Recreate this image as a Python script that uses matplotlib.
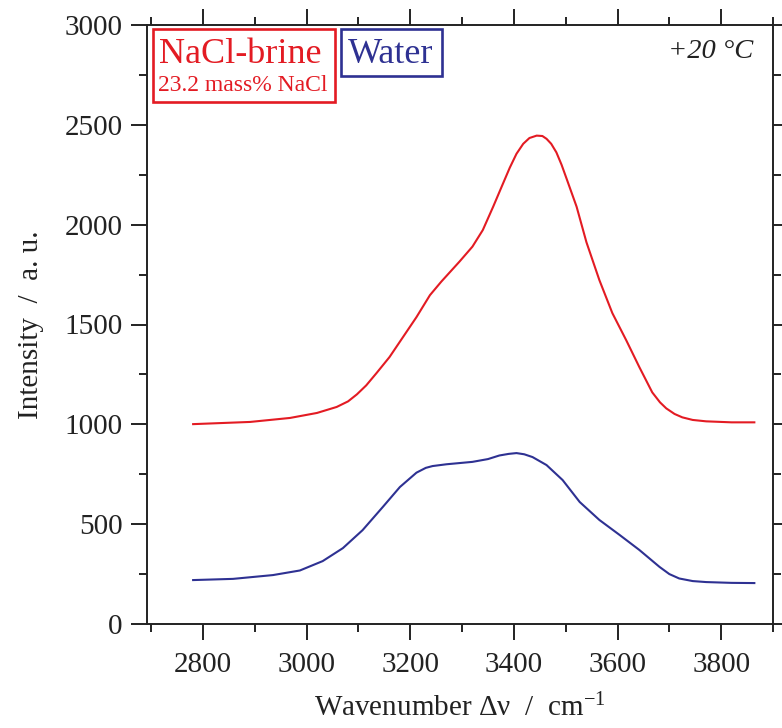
import matplotlib
matplotlib.use("Agg")
import matplotlib.pyplot as plt
from matplotlib.patches import Rectangle
from matplotlib.ticker import MultipleLocator

plt.rcParams['font.family'] = ['Liberation Serif', 'DejaVu Serif']
plt.rcParams['mathtext.fontset'] = 'custom'
plt.rcParams['mathtext.rm'] = 'Liberation Serif'

# NaCl-brine spectrum (wavenumber, intensity)
brine_x = [2781, 2891, 2968, 3020, 3058, 3080, 3097, 3115, 3135, 3160, 3186, 3212,
           3238, 3260, 3295, 3320, 3340, 3360, 3378, 3392, 3405, 3418, 3430, 3444,
           3455, 3463, 3472, 3482, 3492, 3502, 3521, 3540, 3565, 3590, 3617, 3642,
           3667, 3682, 3694, 3710, 3725, 3745, 3771, 3820, 3864]
brine_y = [1001, 1012, 1032, 1057, 1087, 1115, 1150, 1195, 1257, 1337, 1437, 1537,
           1647, 1715, 1815, 1890, 1973, 2090, 2200, 2285, 2355, 2405, 2434, 2446,
           2444, 2430, 2405, 2362, 2300, 2228, 2090, 1912, 1722, 1557, 1420, 1287,
           1160, 1110, 1080, 1052, 1035, 1022, 1015, 1010, 1010]

# Water spectrum
water_x = [2781, 2858, 2935, 2987, 3031, 3070, 3108, 3147, 3180, 3212, 3230, 3243,
           3270, 3295, 3320, 3350, 3372, 3390, 3405, 3420, 3436, 3463, 3494, 3527,
           3565, 3604, 3642, 3681, 3700, 3719, 3745, 3771, 3820, 3864]
water_y = [220, 226, 245, 268, 315, 380, 470, 586, 686, 758, 782, 791,
           800, 806, 812, 826, 844, 852, 856, 850, 836, 796, 721, 611,
           521, 446, 371, 286, 250, 228, 215, 210, 206, 205]

RED = '#e31b23'
BLUE = '#2e3192'

fig = plt.figure(figsize=(7.82, 7.28), dpi=100)
ax = fig.add_axes([147/782, 1 - 624/728, (773-147)/782, (624-25)/728])

ax.plot(brine_x, brine_y, color=RED, lw=1.5)
ax.plot(water_x, water_y, color=BLUE, lw=1.5)

ax.set_xlim(2692, 3900)
ax.set_ylim(0, 3000)
ax.xaxis.set_major_locator(MultipleLocator(200))
ax.xaxis.set_minor_locator(MultipleLocator(100))
ax.yaxis.set_major_locator(MultipleLocator(500))
ax.yaxis.set_minor_locator(MultipleLocator(250))
ax.set_xticks([2800, 3000, 3200, 3400, 3600, 3800])

for s in ax.spines.values():
    s.set_linewidth(1.4)
    s.set_color('#222222')

ax.tick_params(which='both', direction='out', top=True, right=True,
               labeltop=False, labelright=False, width=1.4, color='#222222',
               labelcolor='#222222')
ax.tick_params(which='major', length=11.5, labelsize=21, pad=6)
ax.tick_params(which='minor', length=6)
ax.tick_params(axis='x', which='major', pad=9)

ax.set_xlabel('Wavenumber Δν  /  $\\mathregular{cm^{-1}}$', fontsize=21, labelpad=11,
              color='#222222')
ax.set_ylabel('Intensity  /  a. u.', fontsize=21, labelpad=15, color='#222222')

# legend-like boxes
def px2ax(x, y):
    return ((x - 147) / (773 - 147), (624 - y) / (624 - 25))

x0, y0 = px2ax(153, 102)
x1, y1 = px2ax(335, 29)
ax.add_patch(Rectangle((x0, y0), x1 - x0, y1 - y0, transform=ax.transAxes,
                       fill=False, edgecolor=RED, lw=1.9, clip_on=False))
x0, y0 = px2ax(341, 76)
x1, y1 = px2ax(442, 29)
ax.add_patch(Rectangle((x0, y0), x1 - x0, y1 - y0, transform=ax.transAxes,
                       fill=False, edgecolor=BLUE, lw=1.9, clip_on=False))

tx, ty = px2ax(240, 63)
ax.text(tx, ty, 'NaCl-brine', transform=ax.transAxes, color=RED, fontsize=26,
        ha='center', va='baseline')
tx, ty = px2ax(243, 91)
ax.text(tx, ty, '23.2 mass% NaCl', transform=ax.transAxes, color=RED, fontsize=17,
        ha='center', va='baseline')
tx, ty = px2ax(391, 63)
ax.text(tx, ty, 'Water', transform=ax.transAxes, color=BLUE, fontsize=26,
        ha='center', va='baseline')
tx, ty = px2ax(753, 58)
ax.text(tx, ty, '+20 °C', transform=ax.transAxes, color='#222222', fontsize=20.5,
        style='italic', ha='right', va='baseline')

fig.savefig('out.png', dpi=100)
